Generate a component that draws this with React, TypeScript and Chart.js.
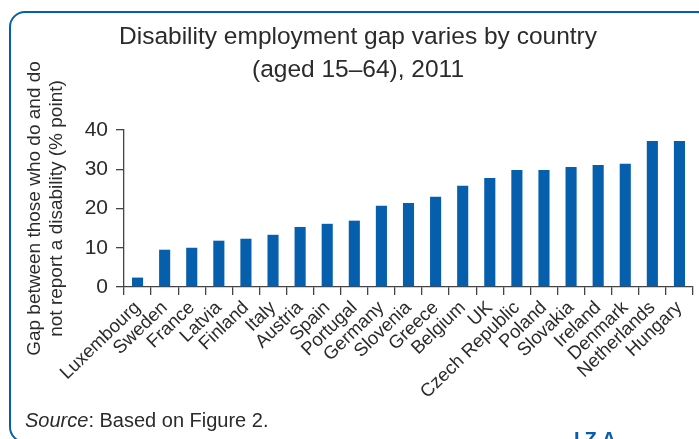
import React, { useEffect, useRef } from "react";
import { Chart, registerables } from "chart.js";

Chart.register(...registerables);

const countries = [
  "Luxembourg", "Sweden", "France", "Latvia", "Finland", "Italy", "Austria",
  "Spain", "Portugal", "Germany", "Slovenia", "Greece", "Belgium", "UK",
  "Czech Republic", "Poland", "Slovakia", "Ireland", "Denmark", "Netherlands", "Hungary",
];
const gapValues = [
  2.4, 9.5, 10.0, 11.8, 12.3, 13.3, 15.3, 16.1, 16.9, 20.7, 21.4, 23.0, 25.8,
  27.8, 29.8, 29.8, 30.6, 31.1, 31.4, 37.2, 37.2,
];
const yTicks = [0, 10, 20, 30, 40];
const titleLines = ["Disability employment gap varies by country", "(aged 15–64), 2011"];
const yTitleLines = ["Gap between those who do and do", "not report a disability (% point)"];

const BLUE = "#065fad";
const TEXT = "#2b2b2b";
const FONT = "'Liberation Sans', Arial, sans-serif";

export default function App() {
  const ref = useRef<HTMLCanvasElement | null>(null);

  useEffect(() => {
    if (!ref.current) return;
    const chart = new Chart(ref.current, {
      type: "bar",
      data: {
        labels: countries,
        datasets: [
          {
            data: gapValues,
            backgroundColor: BLUE,
            borderWidth: 0,
            categoryPercentage: 1,
            barPercentage: 0.41,
          },
        ],
      },
      options: {
        animation: false,
        responsive: false,
        maintainAspectRatio: false,
        layout: { padding: { top: 130, right: 6, bottom: 0, left: 0 } },
        plugins: { legend: { display: false }, tooltip: { enabled: false }, title: { display: false } },
        scales: {
          x: {
            offset: true,
            grid: {
              display: true,
              drawOnChartArea: false,
              drawTicks: true,
              tickLength: 8,
              color: "#444",
              lineWidth: 1.3,
              offset: true,
            },
            border: { display: true, color: "#444", width: 1.3 },
            ticks: {
              autoSkip: false,
              minRotation: 44,
              maxRotation: 44,
              padding: 2,
              color: TEXT,
              font: { family: FONT, size: 18.5 },
            },
            afterFit: (scale: any) => {
              scale.height = 152;
            },
          },
          y: {
            min: 0,
            max: 40,
            afterBuildTicks: (scale: any) => {
              scale.ticks = yTicks.map((v) => ({ value: v }));
            },
            grid: {
              display: true,
              drawOnChartArea: false,
              drawTicks: true,
              tickLength: 8,
              color: "#444",
              lineWidth: 1.3,
            },
            border: { display: true, color: "#444", width: 1.3 },
            ticks: {
              padding: 8,
              color: TEXT,
              font: { family: FONT, size: 21 },
            },
            title: {
              display: true,
              text: yTitleLines,
              color: TEXT,
              font: { family: FONT, size: 19, lineHeight: 1.2 },
              padding: { top: 23, bottom: 0 },
            },
            afterFit: (scale: any) => {
              scale.width = 124;
            },
          },
        },
      },
    });
    return () => chart.destroy();
  }, []);

  return (
    <div style={{ position: "fixed", left: 0, top: 0, width: 699, height: 439, overflow: "hidden", background: "#fff" }}>
      <div
        style={{
          position: "absolute",
          left: 9,
          top: 11,
          width: 704,
          height: 432,
          border: `2.5px solid ${BLUE}`,
          borderRadius: 16,
          boxSizing: "border-box",
        }}
      />
      <canvas ref={ref} width={699} height={439} style={{ position: "absolute", left: 0, top: 0, width: 699, height: 439 }} />
      <div
        style={{
          position: "absolute",
          left: 0,
          top: 19,
          width: 716,
          textAlign: "center",
          fontFamily: FONT,
          fontSize: 24.5,
          lineHeight: "33px",
          color: TEXT,
        }}
      >
        {titleLines.map((t) => (
          <div key={t}>{t}</div>
        ))}
      </div>
      <div
        style={{
          position: "absolute",
          left: 25,
          top: 410,
          fontFamily: FONT,
          fontSize: 20,
          lineHeight: "20px",
          color: TEXT,
          whiteSpace: "nowrap",
        }}
      >
        <i>Source</i>: Based on Figure 2.
      </div>
      <div
        style={{
          position: "absolute",
          left: 574,
          top: 429,
          fontFamily: FONT,
          fontWeight: "bold",
          fontSize: 20,
          lineHeight: "20px",
          letterSpacing: 5,
          color: BLUE,
          whiteSpace: "nowrap",
        }}
      >
        IZA
      </div>
    </div>
  );
}
